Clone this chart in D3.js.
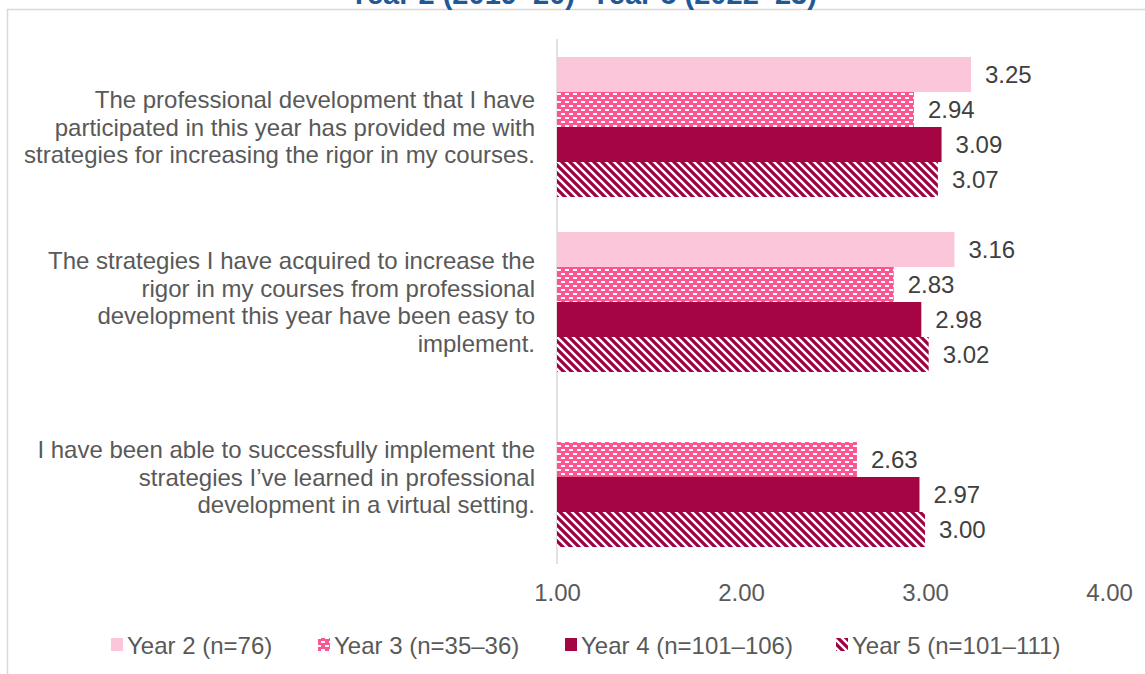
<!DOCTYPE html>
<html>
<head>
<meta charset="utf-8">
<script src="https://cdn.jsdelivr.net/npm/d3@7"></script>
<style>
  html, body { margin: 0; padding: 0; background: #ffffff; }
  svg { display: block; font-family: "Liberation Sans", Arial, sans-serif; }
</style>
</head>
<body>
<svg id="chart" width="1145" height="674"></svg>
<script>
const title = "Year 2 (2019–20)–Year 5 (2022–23)";
const categories = [
  "The professional development that I have participated in this year has provided me with strategies for increasing the rigor in my courses.",
  "The strategies I have acquired to increase the rigor in my courses from professional development this year have been easy to implement.",
  "I have been able to successfully implement the strategies I’ve learned in professional development in a virtual setting."
];
const categoryLines = [
  ["The professional development that I have", "participated in this year has provided me with", "strategies for increasing the rigor in my courses."],
  ["The strategies I have acquired to increase the", "rigor in my courses from professional", "development this year have been easy to", "implement."],
  ["I have been able to successfully implement the", "strategies I’ve learned in professional", "development in a virtual setting."]
];
const seriesNames = ["Year 2 (n=76)", "Year 3 (n=35–36)", "Year 4 (n=101–106)", "Year 5 (n=101–111)"];
const year2 = [3.25, 3.16, null];
const year3 = [2.94, 2.83, 2.63];
const year4 = [3.09, 2.98, 2.97];
const year5 = [3.07, 3.02, 3.00];
const tickValues = [1, 2, 3, 4];

const seriesValues = [year2, year3, year4, year5];
const fills = ["#FBC6D9", "url(#patY3)", "#A50543", "url(#patY5)"];

const svg = d3.select("#chart");
const defs = svg.append("defs");

// Year 3 pattern: pink with white dashes
const p3 = defs.append("pattern").attr("id", "patY3").attr("patternUnits", "userSpaceOnUse")
  .attr("width", 8).attr("height", 8);
p3.append("rect").attr("width", 8).attr("height", 8).attr("fill", "#FB5592");
p3.append("rect").attr("x", 1).attr("y", 1).attr("width", 4).attr("height", 2).attr("fill", "#ffffff");
p3.append("rect").attr("x", 5).attr("y", 5).attr("width", 4).attr("height", 2).attr("fill", "#ffffff");
p3.append("rect").attr("x", -3).attr("y", 5).attr("width", 4).attr("height", 2).attr("fill", "#ffffff");

// Year 5 pattern: wide downward diagonal
const p5 = defs.append("pattern").attr("id", "patY5").attr("patternUnits", "userSpaceOnUse")
  .attr("width", 8).attr("height", 8);
p5.append("rect").attr("width", 8).attr("height", 8).attr("fill", "#ffffff");
p5.append("path").attr("d", "M0,0 L8,8 M-4,4 L4,12 M4,-4 L12,4")
  .attr("stroke", "#9E0040").attr("stroke-width", 3.2).attr("fill", "none");

// chart border
svg.append("rect").attr("x", 7.5).attr("y", 9.5).attr("width", 1200).attr("height", 700)
  .attr("fill", "none").attr("stroke", "#D9D9D9").attr("stroke-width", 1.5);

// title (partially clipped at top, as in the reference)
svg.append("text").attr("x", 583).attr("y", 4).attr("text-anchor", "middle")
  .attr("font-size", 29).attr("font-weight", "bold").attr("fill", "#1F5A96").text(title);

const x = d3.scaleLinear().domain([1, 4]).range([557, 1109]);
const y = d3.scaleBand().domain(d3.range(categories.length)).range([39.5, 564.5])
  .paddingInner(0.2).paddingOuter(0.1);
const ySub = d3.scaleBand().domain(d3.range(seriesNames.length)).range([0, y.bandwidth()]);

const fontSize = 24;

// axis (bottom tick labels)
const xAxis = d3.axisBottom(x).tickValues(tickValues).tickFormat(d3.format(".2f")).tickSize(0).tickPadding(0);
const gx = svg.append("g").attr("transform", "translate(0,584)").call(xAxis);
gx.select(".domain").remove();
gx.selectAll("text").attr("font-size", fontSize).attr("fill", "#595959")
  .attr("font-family", "'Liberation Sans', Arial, sans-serif").attr("dy", "0.71em").attr("y", 0);

// vertical axis line
svg.append("line").attr("x1", x(1)).attr("x2", x(1)).attr("y1", 39).attr("y2", 564)
  .attr("stroke", "#D9D9D9").attr("stroke-width", 1.5);

// bars
seriesValues.forEach((vals, si) => {
  const g = svg.append("g");
  vals.forEach((v, ci) => {
    if (v == null) return;
    const y0 = y(ci) + ySub(si);
    g.append("rect").attr("x", x(1)).attr("y", y0)
      .attr("width", x(v) - x(1)).attr("height", ySub.bandwidth()).attr("fill", fills[si]);
    g.append("text").attr("x", x(v) + 14).attr("y", y0 + ySub.bandwidth() / 2).attr("dy", "0.36em")
      .attr("font-size", fontSize).attr("fill", "#404040").text(d3.format(".2f")(v));
  });
});

// category labels
categoryLines.forEach((lines, ci) => {
  const cy = y(ci) + y.bandwidth() / 2;
  const lh = 27.5;
  const t = svg.append("text").attr("text-anchor", "end").attr("font-size", fontSize).attr("fill", "#595959");
  lines.forEach((ln, li) => {
    t.append("tspan").attr("x", 535)
      .attr("y", cy + (li - (lines.length - 1) / 2) * lh).attr("dy", "0.36em").text(ln);
  });
});

// legend
const legendX = [111, 318, 565, 836];
const lg = svg.append("g");
seriesNames.forEach((name, i) => {
  lg.append("rect").attr("x", legendX[i]).attr("y", 638).attr("width", 12).attr("height", 13).attr("fill", fills[i]);
  lg.append("text").attr("x", legendX[i] + 16).attr("y", 645).attr("dy", "0.36em")
    .attr("font-size", fontSize).attr("fill", "#595959").text(name);
});
</script>
</body>
</html>
